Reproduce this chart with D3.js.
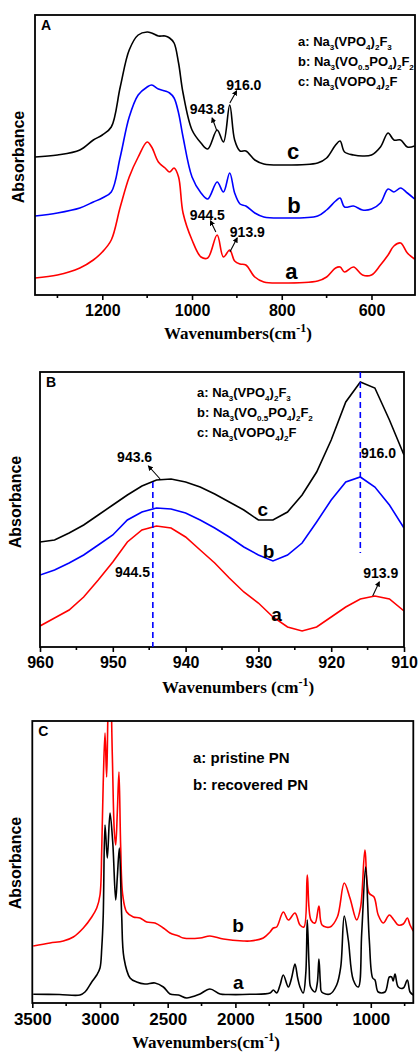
<!DOCTYPE html>
<html>
<head>
<meta charset="utf-8">
<script src="https://cdn.jsdelivr.net/npm/d3@7"></script>
<style>
  body { margin: 0; background: #fff; }
  svg { display: block; }
  text { font-family: "Liberation Sans", Arial, sans-serif; font-weight: bold; fill: #000; }
  .serif { font-family: "Liberation Serif", "Times New Roman", serif; }
</style>
</head>
<body>
<div id="chart"></div>
<script>
// ---- panel A data (wavenumber grid shared by the three spectra)
var waveA = [1350,1300,1250,1220,1200,1180,1160,1140,1120,1100,1090,1075,1060,1050,1040,1030,1020,1000,980,965,944,930,916,905,893,880,860,840,800,720,700,680,670,660,640,620,600,580,563,550,535,520,504];
var specA_c = [13.8,14.0,14.5,15.5,16.0,16.8,20.8,24.5,26.0,26.3,26.2,25.9,25.9,25.7,25.2,23.2,20.2,16.5,15.2,14.6,16.5,15.3,19.0,15.5,14.4,14.4,13.5,13.1,13.0,13.2,13.7,15.0,15.4,14.3,14.0,13.9,14.0,14.8,16.2,15.5,15.5,14.8,14.9];
var specA_b = [7.9,8.2,8.7,9.3,9.7,10.3,13.8,17.8,20.0,20.8,21.0,20.6,20.4,20.2,19.7,18.2,15.8,11.8,10.2,9.6,11.3,10.3,12.2,10.2,9.1,8.9,8.2,7.8,7.7,7.9,8.5,9.4,9.7,8.8,8.9,8.5,8.6,9.2,10.6,10.3,10.7,10.2,9.6];
var specA_a = [1.7,2.0,2.7,3.5,4.3,5.5,8.8,11.8,13.8,15.3,14.8,13.3,12.7,12.3,12.7,11.8,8.2,5.5,3.8,3.7,6.0,3.8,4.5,3.4,3.1,3.0,1.8,1.3,1.2,1.4,1.8,2.7,2.8,2.3,2.8,2.0,2.0,3.0,4.0,4.9,5.2,4.2,3.6];
var majorA = [1200,1000,800,600];
var minorA = [1300,1100,900,700];
var legendA = ["a: Na_3_(VPO_4_)_2_F_3", "b: Na_3_(VO_0.5_PO_4_)_2_F_2", "c: Na_3_(VOPO_4_)_2_F"];
// annotation text [label, wavenumber, value] and arrows [w1, v1, w2, v2]
var notesA = [["943.8",965.8,18.1],["916.0",884.5,20.5],["944.5",965.8,7.5],["913.9",876.7,5.8]];
var arrowsA = [[945.3,16.5,955.1,17.7],[915.7,19.2,900.8,20.4],[946.9,6.3,958.7,7.4],[915.7,4.3,899.4,5.7]];
var curveLabA = [["c",774.7,13.6],["b",772.5,8.2],["a",778.3,1.6]];

// ---- panel B data
var waveB = [960,958,956,954,952,950,948,946,944,942,940,938,936,934,932,930,928,926,924,922,920,918,916,914,912,910];
var specB_c = [10.5,10.7,11.4,12.2,13.2,14.2,15.2,16.1,16.7,16.8,16.5,16.0,15.3,14.5,13.7,12.7,12.7,13.5,15.2,17.5,20.7,24.5,26.5,25.9,22.7,19.2];
var specB_b = [7.2,7.7,8.4,9.2,10.2,11.2,12.7,13.5,13.9,13.8,13.4,12.7,11.9,11.0,10.0,9.2,8.6,9.2,10.4,12.5,14.7,16.5,17.0,16.0,14.2,11.9];
var specB_a = [2.1,2.9,3.7,5.0,6.7,8.5,10.5,11.7,12.1,11.9,11.0,9.7,8.4,6.9,5.5,4.4,3.0,2.0,1.6,2.0,3.0,4.0,4.8,5.1,4.8,3.6];
var majorB = [960,950,940,930,920,910];
var minorB = [955,945,935,925,915];
var legendB = legendA;
var notesB = [["943.6",947.0,18.5],["944.5",947.3,7.0],["916.0",913.5,18.9],["913.9",913.2,6.9]];
var arrowsB = [[943.5,16.8,945.1,18.1],[914.3,5.1,913.4,6.5]];
var dashB = [[944.5,16.5,0],[916.0,27.5,9.4]];
var curveLabB = [["c",929.4,13.1],["b",928.6,8.9],["a",927.5,2.6]];

// ---- panel C data
var waveC_a = [3493,3300,3148,3111,3061,3024,3000,2987,2976,2963,2946,2926,2906,2884,2872,2857,2840,2823,2778,2729,2668,2594,2532,2483,2420,2360,2300,2261,2188,2113,2050,1892,1744,1720,1695,1670,1646,1609,1585,1560,1540,1523,1499,1480,1469,1455,1444,1412,1395,1383,1372,1363,1301,1252,1222,1196,1166,1129,1092,1067,1038,1011,986,969,945,895,863,846,835,821,797,760,730,710,686];
var specC_a = [0.87,0.85,0.8,1.1,2.1,2.8,3.5,5.5,8.8,17.8,14.5,19.0,16.1,10.3,12.6,15.5,8.8,4.5,2.5,2.1,1.9,2.0,1.6,0.9,0.8,0.5,0.7,0.9,1.4,0.9,0.85,0.87,1.0,1.3,1.0,1.8,2.8,1.6,2.5,3.9,2.5,1.6,1.0,3.0,8.3,3.5,1.6,1.1,2.0,4.4,2.0,1.1,0.9,1.8,3.6,8.7,6.3,2.3,1.6,7.0,13.6,6.3,2.5,2.3,1.1,1.1,2.6,2.6,2.2,2.9,1.6,1.5,2.3,1.1,0.8];
var waveC_b = [3493,3369,3271,3197,3123,3061,3024,3000,2987,2976,2963,2951,2939,2925,2909,2894,2884,2872,2860,2847,2832,2803,2754,2705,2655,2594,2532,2483,2420,2385,2261,2188,2089,1942,1892,1794,1744,1720,1695,1646,1609,1560,1523,1494,1469,1442,1412,1383,1360,1301,1247,1196,1154,1104,1075,1043,1013,976,945,908,863,829,797,760,730,710,686];
var specC_b = [5.7,6.0,6.2,6.6,7.5,8.6,9.5,10.8,15.5,22.1,27.0,22.6,30.0,33.0,24.8,17.1,15.8,19.1,23.1,15.5,10.8,9.1,8.6,8.5,8.1,8.0,7.5,7.0,6.7,6.5,6.5,6.7,6.4,6.2,6.2,6.5,7.1,7.5,7.6,9.1,8.3,9.0,7.8,7.6,12.8,8.3,8.0,9.7,7.8,7.6,8.6,12.0,10.5,8.3,9.6,15.3,11.0,10.6,8.8,8.0,8.8,8.3,7.8,7.9,8.5,7.8,7.2];
var majorC = [3500,3000,2500,2000,1500,1000];
var minorC = [3250,2750,2250,1750,1250,750];
var legendC = ["a: pristine PN", "b: recovered PN"];
var curveLabC = [["b",1981,7.1],["a",1979,1.4]];

var svg = d3.select("#chart").append("svg")
  .attr("width", 418)
  .attr("height", 1054);

svg.append("defs").append("marker")
  .attr("id", "head")
  .attr("viewBox", "0 0 10 10")
  .attr("refX", 8).attr("refY", 5)
  .attr("markerWidth", 5).attr("markerHeight", 5)
  .attr("orient", "auto")
  .append("path").attr("d", "M0,0 L10,5 L0,10 z").attr("fill", "#000");

// writes "a: Na_3_(VPO_4_)" style strings, odd pieces as subscripts
function richText(sel, str, size) {
  var parts = str.split("_");
  var down = false;
  parts.forEach(function(p, i) {
    var sub = i % 2 == 1;
    var t = sel.append("tspan").text(p);
    if (sub) { t.attr("font-size", size * 0.62).attr("dy", 4); down = true; }
    else if (down) { t.attr("dy", -4); down = false; }
  });
}

function panel(o) {
  var g = svg.append("g");
  var x = d3.scaleLinear().domain(o.xdom).range([o.left, o.right]);
  var y = d3.scaleLinear().domain(o.ydom).range([o.bottom, o.top]);

  var clipId = "clip" + o.name;
  svg.select("defs").append("clipPath").attr("id", clipId)
    .append("rect").attr("x", o.left).attr("y", o.top)
    .attr("width", o.right - o.left).attr("height", o.bottom - o.top);

  var line = d3.line()
    .x(function(d) { return x(d[0]); })
    .y(function(d) { return y(d[1]); })
    .curve(o.curve);

  o.series.forEach(function(s) {
    g.append("path")
      .datum(d3.zip(s.wave, s.vals))
      .attr("clip-path", "url(#" + clipId + ")")
      .attr("d", line)
      .attr("fill", "none")
      .attr("stroke", s.color)
      .attr("stroke-width", 1.6);
  });

  // frame
  g.append("rect")
    .attr("x", o.left).attr("y", o.top)
    .attr("width", o.right - o.left).attr("height", o.bottom - o.top)
    .attr("fill", "none").attr("stroke", "#000").attr("stroke-width", 1.8);

  // x axis, ticks outward
  var ax = g.append("g").attr("transform", "translate(0," + o.bottom + ")")
    .call(d3.axisBottom(x).tickValues(o.major).tickSize(5).tickPadding(5).tickFormat(d3.format("d")));
  ax.select(".domain").remove();
  ax.selectAll("line").attr("stroke-width", 1.6);
  ax.selectAll("text").attr("font-size", o.tickSize).attr("font-family", "Liberation Sans, Arial, sans-serif").attr("font-weight", "bold");
  g.selectAll(".minor").data(o.minor).enter().append("line")
    .attr("x1", function(d) { return x(d); }).attr("x2", function(d) { return x(d); })
    .attr("y1", o.bottom).attr("y2", o.bottom + 3)
    .attr("stroke", "#000").attr("stroke-width", 1.6);

  // titles
  var xt = g.append("text").attr("class", "serif")
    .attr("x", o.xtX).attr("y", o.xtY)
    .attr("text-anchor", "middle").attr("font-size", 17);
  xt.append("tspan").text(o.xtitle);
  xt.append("tspan").attr("dy", -7).attr("font-size", 12).text("-1");
  xt.append("tspan").attr("dy", 7).text(")");

  g.append("text")
    .attr("transform", "translate(" + o.ytX + "," + o.ytY + ") rotate(-90)")
    .attr("text-anchor", "middle").attr("dominant-baseline", "middle")
    .attr("font-size", 16).text("Absorbance");

  g.append("text").attr("x", o.left + 6).attr("y", o.top + 15)
    .attr("font-size", 14).text(o.name);

  // legend
  o.legend.forEach(function(l, i) {
    var t = g.append("text").attr("x", o.legX).attr("y", o.legY + i * o.legStep)
      .attr("font-size", o.legSize);
    richText(t, l, o.legSize);
  });

  // dashed guides
  (o.dash || []).forEach(function(d) {
    g.append("line")
      .attr("x1", x(d[0])).attr("x2", x(d[0]))
      .attr("y1", y(d[1])).attr("y2", y(d[2]))
      .attr("stroke", "#0000ff").attr("stroke-width", 1.6)
      .attr("stroke-dasharray", "6,4");
  });

  // peak labels and arrows
  (o.notes || []).forEach(function(n) {
    g.append("text").attr("x", x(n[1])).attr("y", y(n[2]))
      .attr("text-anchor", "middle").attr("font-size", 14).text(n[0]);
  });
  (o.arrows || []).forEach(function(a) {
    g.append("line")
      .attr("x1", x(a[0])).attr("y1", y(a[1]))
      .attr("x2", x(a[2])).attr("y2", y(a[3]))
      .attr("stroke", "#000").attr("stroke-width", 1.1)
      .attr("marker-end", "url(#head)");
  });

  o.curveLabs.forEach(function(c) {
    g.append("text").attr("x", x(c[1])).attr("y", y(c[2]))
      .attr("text-anchor", "middle").attr("font-size", o.labSize).text(c[0]);
  });
}

panel({
  name: "A", left: 35, right: 415, top: 15, bottom: 295,
  xdom: [1350, 503], ydom: [0, 28], curve: d3.curveCatmullRom.alpha(0.5),
  series: [
    {wave: waveA, vals: specA_c, color: "#000000"},
    {wave: waveA, vals: specA_b, color: "#0000ff"},
    {wave: waveA, vals: specA_a, color: "#ff0000"}
  ],
  major: majorA, minor: minorA, tickSize: 16,
  xtitle: "Wavenumbers(cm", xtX: 238, xtY: 339,
  ytX: 20, ytY: 157,
  legend: legendA, legX: 298, legY: 46, legStep: 20, legSize: 13,
  notes: notesA, arrows: arrowsA,
  curveLabs: curveLabA, labSize: 22
});

panel({
  name: "B", left: 40, right: 404, top: 372, bottom: 647,
  xdom: [960, 910], ydom: [0, 27.5], curve: d3.curveLinear,
  series: [
    {wave: waveB, vals: specB_c, color: "#000000"},
    {wave: waveB, vals: specB_b, color: "#0000ff"},
    {wave: waveB, vals: specB_a, color: "#ff0000"}
  ],
  major: majorB, minor: minorB, tickSize: 16,
  xtitle: "Wavenumbers (cm", xtX: 238, xtY: 693,
  ytX: 17, ytY: 502,
  legend: legendB, legX: 197, legY: 397, legStep: 20, legSize: 13,
  notes: notesB, arrows: arrowsB, dash: dashB,
  curveLabs: curveLabB, labSize: 19
});

panel({
  name: "C", left: 32.3, right: 413.3, top: 721, bottom: 1003,
  xdom: [3500, 686], ydom: [0, 28.2], curve: d3.curveCatmullRom.alpha(0.5),
  series: [
    {wave: waveC_b, vals: specC_b, color: "#ff0000"},
    {wave: waveC_a, vals: specC_a, color: "#000000"}
  ],
  major: majorC, minor: minorC, tickSize: 17,
  xtitle: "Wavenumbers(cm", xtX: 206, xtY: 1048,
  ytX: 17, ytY: 863,
  legend: legendC, legX: 193, legY: 763, legStep: 27, legSize: 15,
  curveLabs: curveLabC, labSize: 19
});
</script>
</body>
</html>
